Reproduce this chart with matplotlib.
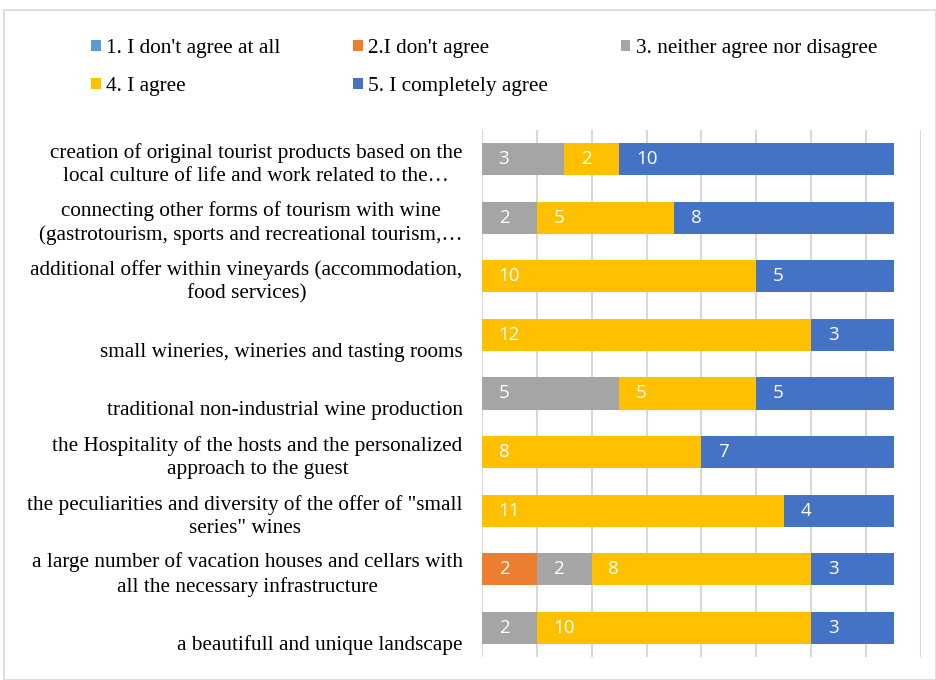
import matplotlib
matplotlib.use("Agg")
import matplotlib.pyplot as plt
from matplotlib.patches import Rectangle
import numpy as np

categories = [
    "creation of original tourist products based on the\nlocal culture of life and work related to the\u2026",
    "connecting other forms of tourism with wine\n(gastrotourism, sports and recreational tourism,\u2026",
    "additional offer within vineyards (accommodation,\nfood services)",
    "\nsmall wineries, wineries and tasting rooms",
    "\ntraditional non-industrial wine production",
    "the Hospitality of the hosts and the personalized\napproach to the guest",
    "the peculiarities and diversity of the offer of \"small\nseries\" wines",
    "a large number of vacation houses and cellars with\nall the necessary infrastructure",
    "\na beautifull and unique landscape",
]
series_names = [
    "1. I don't agree at all",
    "2.I don't agree",
    "3. neither agree nor disagree",
    "4. I agree",
    "5. I completely agree",
]
s1 = [0, 0, 0, 0, 0, 0, 0, 0, 0]
s2 = [0, 0, 0, 0, 0, 0, 0, 2, 0]
s3 = [3, 2, 0, 0, 5, 0, 0, 2, 2]
s4 = [2, 5, 10, 12, 5, 8, 11, 8, 10]
s5 = [10, 8, 5, 3, 5, 7, 4, 3, 3]
series = [s1, s2, s3, s4, s5]
colors = ["#5B9BD5", "#ED7D31", "#A5A5A5", "#FFC000", "#4472C4"]

W, H = 937, 680
fig = plt.figure(figsize=(W / 100, H / 100), dpi=100)
fig.patches.append(Rectangle((4 / W, 0), (W - 5) / W, (H - 10) / H, transform=fig.transFigure,
                             fill=False, edgecolor="#D9D9D9", linewidth=1.2))

ax = fig.add_axes([482 / W, 1 - 657 / H, 439 / W, 527 / H])
y = np.arange(len(categories))
left = np.zeros(len(categories))
handles = []
for name, vals, c in zip(series_names, series, colors):
    vals = np.array(vals, dtype=float)
    bars = ax.barh(y, vals, left=left, height=0.55, color=c, label=name, zorder=3)
    handles.append(bars)
    for yi, (l, v) in enumerate(zip(left, vals)):
        if v > 0:
            ax.annotate(f"{int(v)}", xy=(l, yi), xytext=(12, 0), textcoords="offset points",
                        ha="left", va="center", color="white", fontsize=13.5,
                        family="Open Sans", zorder=4)
    left += vals

ax.set_xlim(0, 16)
ax.set_ylim(len(categories) - 0.5, -0.5)
ax.set_xticks(np.arange(0, 17, 2))
ax.xaxis.grid(True, color="#D9D9D9", linewidth=1.5, zorder=0)
ax.tick_params(axis="both", length=0, labelbottom=False, labelleft=False)
for sp in ax.spines.values():
    sp.set_visible(False)

for yi, lab in enumerate(categories):
    ax.annotate(lab, xy=(0, yi), xytext=(-14, -4), textcoords="offset points",
                ha="right", va="center", multialignment="center", linespacing=1.3,
                fontsize=15.3, family="Liberation Serif", color="#000000")

order = [0, 3, 1, 4, 2]
fig.legend(handles=[handles[i] for i in order], labels=[series_names[i] for i in order],
           ncol=3, loc="upper left",
           bbox_to_anchor=(72 / W, 1 - 20 / H), frameon=False,
           prop={"family": "Liberation Serif", "size": 15.3},
           handlelength=0.45, handleheight=0.45, handletextpad=0.25,
           columnspacing=3.43, labelspacing=0.9)

fig.savefig("out.png", dpi=100)
